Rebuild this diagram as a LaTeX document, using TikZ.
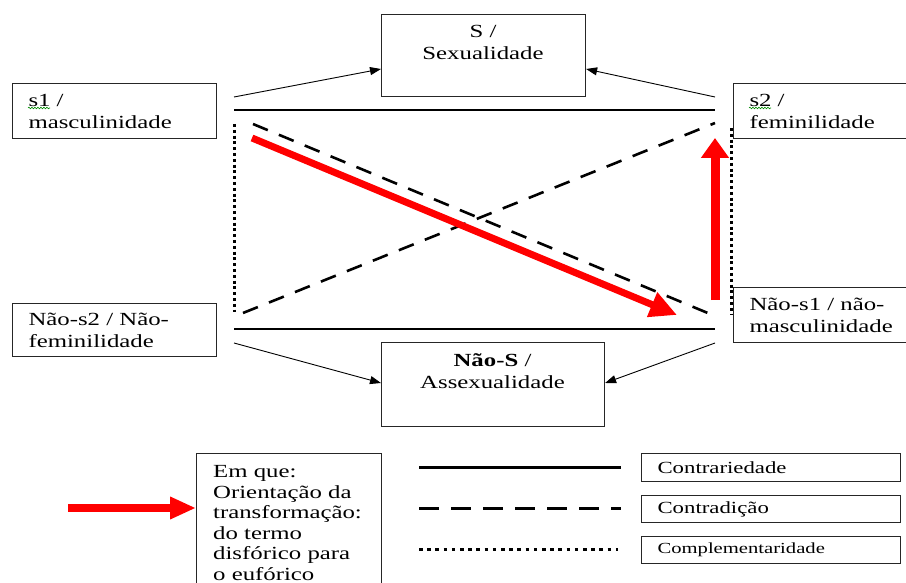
\documentclass[tikz,border=0pt]{standalone}
\usepackage{fontspec}
\setmainfont{Liberation Serif}[FakeStretch=1.34]
\usetikzlibrary{arrows.meta,calc,decorations.pathmorphing}

\newcommand\bodysize{\fontsize{18.5}{22}\selectfont}
\newcommand\keysize{\fontsize{18.5}{20.5}\selectfont}
\newcommand\legsize{\fontsize{17}{20}\selectfont}
\newcommand\smallleg{\fontsize{15.4}{18}\selectfont}

\begin{document}
\begin{tikzpicture}[x=1pt,y=-1pt,
  frame/.style={draw=black!85,line width=1.1pt},
  termbox/.style={frame,anchor=north west,inner xsep=16pt,inner ysep=0pt,align=left,font=\bodysize},
  plainbox/.style={frame,anchor=north west,inner sep=0pt},
  caption/.style={inner sep=0pt,font=\bodysize},
  legbox/.style={frame,anchor=north west,inner xsep=16pt,inner ysep=0pt,align=left,text width=227pt},
  contrary/.style={line width=2.6pt},
  contradict/.style={line width=2.6pt,dash pattern=on 16pt off 12pt},
  complement/.style={line width=3pt,dash pattern=on 3pt off 2.8pt},
  feed/.style={line width=0.9pt,-{Triangle[length=11pt,width=8pt]}},
  transform/.style={red,line width=8pt},
  spellmark/.style={green!55!black,line width=0.6pt,decorate,
    decoration={snake,amplitude=0.8pt,segment length=3pt}}
]
\useasboundingbox (0,0) rectangle (906,583);
\clip (0,0) rectangle (906,583);

% the four terms of the square
\node[termbox,text width=172pt,minimum height=55pt] (s1) at (12,83) {s1 /\\masculinidade};
\node[termbox,text width=158pt,minimum height=55pt] (s2) at (733,83) {s2 /\\feminilidade};
\node[termbox,text width=172pt,minimum height=53pt] (ns2) at (12,303) {Não-s2 / Não-\\feminilidade};
\node[termbox,text width=158pt,minimum height=55pt] (ns1) at (733,287) {Não-s1 / não-\\masculinidade};

% the two meta-terms
\node[plainbox,minimum width=204pt,minimum height=82pt] (S) at (381,14) {};
\node[caption,anchor=north,align=center] (Slbl) at (483,25) {S /\\Sexualidade};
\node[plainbox,minimum width=223pt,minimum height=84pt] (nS) at (381,342) {};
\node[caption,anchor=north,align=center] (nSlbl) at (492.5,353) {\textbf{Não-S} /\\Assexualidade};

% spell-check marks under s1 and s2
\draw[spellmark] (28,108) -- (50,108);
\draw[spellmark] (749,108) -- (771,108);

% anchor points of the relations
\coordinate (tl) at (234,110);
\coordinate (tr) at (715,110);
\coordinate (bl) at (234,329);
\coordinate (br) at (715,329);
\coordinate (dlt) at (234,124);
\coordinate (dlb) at (234,312);
\coordinate (drt) at (731.5,128);
\coordinate (drb) at (731.5,315);
\coordinate (da1) at (253,124);
\coordinate (da2) at (715,316);
\coordinate (db1) at (243,313);
\coordinate (db2) at (715,123);

% contrariety
\draw[contrary] (tl) -- (tr);
\draw[contrary] (bl) -- (br);
% contradiction
\draw[contradict] (da1) -- (da2);
\draw[contradict] (db1) -- (db2);
% complementarity
\draw[complement] (dlt) -- (dlb);
\draw[complement] (drt) -- (drb);

% terms feeding the meta-terms
\coordinate (f1) at (234,97);
\coordinate (f2) at (715,97);
\coordinate (f3) at (234,343);
\coordinate (f4) at (715,343);
\draw[feed] (f1) -- ($(S.north west)+(0,55)$);
\draw[feed] (f2) -- ($(S.north east)+(0,55)$);
\draw[feed] (f3) -- ($(nS.north west)+(0,41)$);
\draw[feed] (f4) -- ($(nS.north east)+(0,41)$);

% orientation of the transformation
\coordinate (r1a) at (252,138);
\coordinate (r1b) at (677,315);
\coordinate (r2a) at (715,300);
\coordinate (r2b) at (715,138);
\draw[transform,line width=7pt,-{Triangle[length=27pt,width=25pt]}] (r1a) -- (r1b);
\draw[transform,line width=9pt,-{Triangle[length=20pt,width=27pt]}] (r2a) -- (r2b);

% key
\node[plainbox,minimum width=185pt,minimum height=150pt] (key) at (196,453) {};
\node[caption,anchor=north west,align=left,font=\keysize] (keylbl) at (213,465.5)
  {Em que:\\Orientação da\\transformação:\\do termo\\disfórico para\\o eufórico};
\coordinate (kr) at (68,508);
\draw[transform,-{Triangle[length=26pt,width=21pt]}] (kr) -- ($(key.north west)+(0,55)$);

\node[legbox,font=\legsize,minimum height=28pt] (lg1) at (641,453) {Contrariedade};
\node[legbox,font=\legsize,minimum height=27pt] (lg2) at (641,495) {Contradição};
\node[legbox,font=\smallleg,minimum height=27pt] (lg3) at (641,536) {Complementaridade};

\coordinate (k1a) at (419,467);
\coordinate (k1b) at (621,467);
\coordinate (k2a) at (419,508);
\coordinate (k2b) at (621,508);
\coordinate (k3a) at (419,549);
\coordinate (k3b) at (618,549);
\draw[contrary,line width=3pt] (k1a) -- (k1b);
\draw[line width=3pt,dash pattern=on 20pt off 12pt] (k2a) -- (k2b);
\draw[line width=3pt,dash pattern=on 3.5pt off 4.7pt] (k3a) -- (k3b);
\end{tikzpicture}
\end{document}
